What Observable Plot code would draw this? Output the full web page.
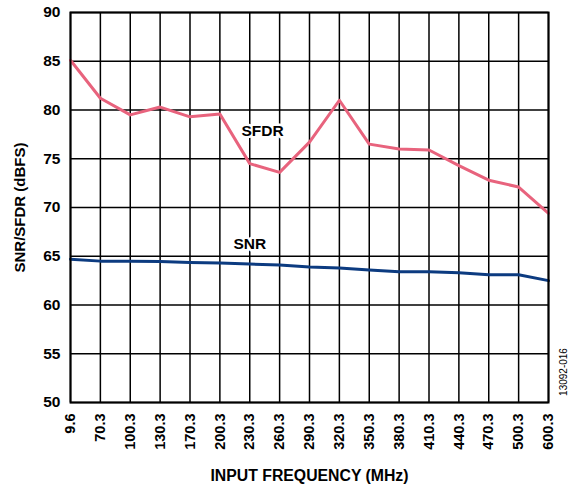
<!DOCTYPE html>
<html>
<head>
<meta charset="utf-8">
<script src="https://cdn.jsdelivr.net/npm/d3@7"></script>
<script src="https://cdn.jsdelivr.net/npm/@observablehq/plot@0.6"></script>
<style>
  html, body { margin: 0; padding: 0; background: #fff; overflow: hidden; }
  svg { display: block; font-family: "Liberation Sans", Arial, sans-serif; }
</style>
</head>
<body>
<div id="chart"></div>
<script>
const frequencies = ["9.6","70.3","100.3","130.3","170.3","200.3","230.3","260.3","290.3","320.3","350.3","380.3","410.3","440.3","470.3","500.3","600.3"];
const sfdr = [85.1, 81.2, 79.5, 80.3, 79.3, 79.6, 74.5, 73.6, 76.7, 81.0, 76.5, 76.0, 75.9, 74.3, 72.8, 72.1, 69.4];
const snr  = [64.7, 64.5, 64.5, 64.45, 64.35, 64.3, 64.2, 64.1, 63.9, 63.8, 63.6, 63.4, 63.4, 63.3, 63.1, 63.1, 62.5];
const yTicks = [50, 55, 60, 65, 70, 75, 80, 85, 90];
const sfdrLabel = [{name: "SFDR", x: "260.3", y: 77.8}];
const snrLabel = [{name: "SNR", x: "230.3", y: 66.25}];

const sfdrData = frequencies.map((f, i) => ({f, v: sfdr[i]}));
const snrData = frequencies.map((f, i) => ({f, v: snr[i]}));

const chart = Plot.plot({
  width: 574,
  height: 484,
  marginLeft: 70,
  marginRight: 26,
  marginTop: 12,
  marginBottom: 82,
  style: {fontFamily: "'Liberation Sans', Arial, sans-serif", fontSize: "14px", fontWeight: "bold", color: "#000", background: "#fff"},
  x: {type: "point", domain: frequencies, padding: 0, round: false},
  y: {domain: [50, 90]},
  marks: [
    Plot.gridX(frequencies, {stroke: "#000", strokeOpacity: 1, strokeWidth: 1.5}),
    Plot.gridY(yTicks, {stroke: "#000", strokeOpacity: 1, strokeWidth: 1.5}),
    Plot.line(sfdrData, {x: "f", y: "v", stroke: "#E8637D", strokeWidth: 3}),
    Plot.line(snrData, {x: "f", y: "v", stroke: "#0C3B80", strokeWidth: 3}),
    Plot.text(sfdrLabel, {x: "x", y: "y", text: "name", dx: -17, fill: "#000", stroke: "#fff", strokeWidth: 5, fontSize: 15.5, fontWeight: "bold"}),
    Plot.text(snrLabel, {x: "x", y: "y", text: "name", fill: "#000", stroke: "#fff", strokeWidth: 5, fontSize: 15.5, fontWeight: "bold"}),
    Plot.frame({stroke: "#000", strokeWidth: 2}),
    Plot.axisY(yTicks, {tickSize: 0, tickPadding: 10, fontSize: 15.5, fontWeight: "bold", label: null}),
    Plot.axisY({label: "SNR/SFDR (dBFS)", ticks: [], tickSize: 0, fontSize: 15, fontWeight: "bold", labelAnchor: "center", labelOffset: 56, labelArrow: "none"}),
    Plot.axisX(frequencies, {tickSize: 0, tickPadding: 11, tickRotate: -90, fontSize: 14.5, fontWeight: "bold", label: null}),
    Plot.axisX({label: "INPUT FREQUENCY (MHz)", ticks: [], tickSize: 0, fontSize: 15.8, fontWeight: "bold", labelAnchor: "center", labelOffset: 78, labelArrow: "none"})
  ]
});

document.getElementById("chart").appendChild(chart);

const svg = d3.select(chart);
svg.append("text")
  .attr("transform", "translate(567,372) rotate(-90)")
  .attr("text-anchor", "middle")
  .attr("font-size", 10)
  .attr("font-weight", "normal")
  .attr("fill", "#000")
  .text("13092-016");
</script>
</body>
</html>
